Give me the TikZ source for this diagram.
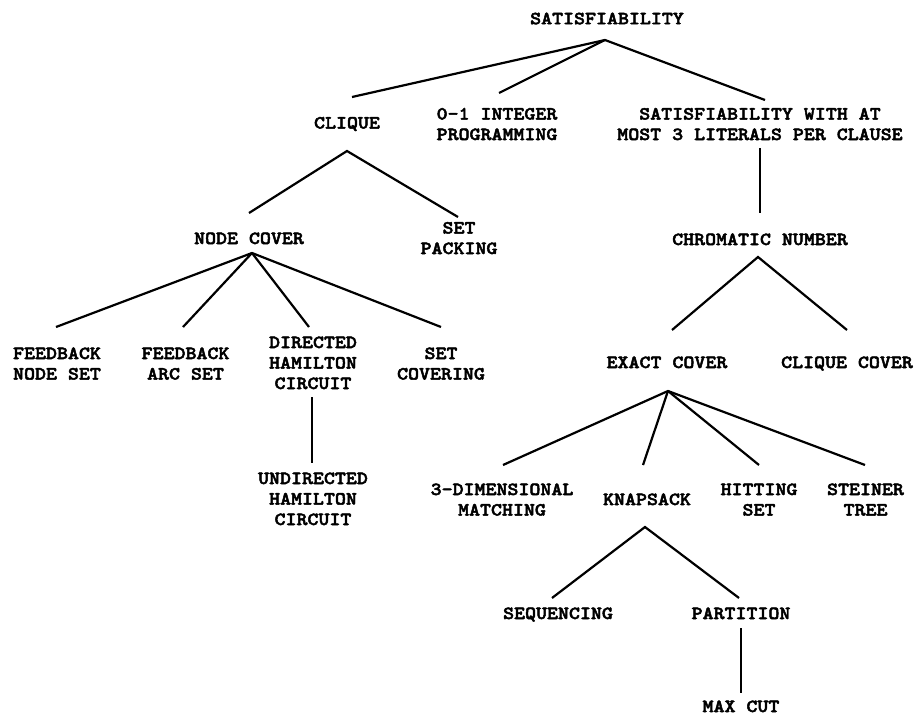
\documentclass[tikz,border=0pt]{standalone}
\usepackage{fontspec}
% heavy typewriter face, widened slightly for a Courier-like set width
\newfontfamily\probfont[FakeStretch=1.13,FakeBold=2.6]{lmmonolt10-bold.otf}
\begin{document}
\begin{tikzpicture}[x=1pt,y=-1pt,
  prob/.style={anchor=north, inner sep=0pt, outer sep=0pt, align=center,
    font=\probfont\fontsize{18.5}{20.5}\selectfont},
  link/.style={line width=2.2pt, line cap=butt, line join=miter}]
\useasboundingbox[fill=white] (0,0) rectangle (916,715);

% problems, each placed by the top of its first text line
\node[prob] (sat)        at (607,12.7)  {SATISFIABILITY};
\node[prob] (clique)     at (347,117)   {CLIQUE};
\node[prob] (int01)      at (497,108)   {0-1 INTEGER\\PROGRAMMING};
\node[prob] (sat3)       at (760,108)   {SATISFIABILITY WITH AT\\MOST 3 LITERALS PER CLAUSE};
\node[prob] (nodecover)  at (249,232.5) {NODE COVER};
\node[prob] (setpack)    at (459,222)   {SET\\PACKING};
\node[prob] (chromatic)  at (760,233.5) {CHROMATIC NUMBER};
\node[prob] (fns)        at (57,347.5)  {FEEDBACK\\NODE SET};
\node[prob] (fas)        at (185.5,347.5) {FEEDBACK\\ARC SET};
\node[prob] (dhc)        at (313,336.5) {DIRECTED\\HAMILTON\\CIRCUIT};
\node[prob] (setcover)   at (441,347.5) {SET\\COVERING};
\node[prob] (uhc)        at (313,472.5) {UNDIRECTED\\HAMILTON\\CIRCUIT};
\node[prob] (exact)      at (667,356.5) {EXACT COVER};
\node[prob] (cliquecov)  at (847,356.5) {CLIQUE COVER};
\node[prob] (tdm)        at (502,483.5) {3-DIMENSIONAL\\MATCHING};
\node[prob] (knapsack)   at (647,493.5) {KNAPSACK};
\node[prob] (hitting)    at (759,483.5) {HITTING\\SET};
\node[prob] (steiner)    at (865.5,483.5) {STEINER\\TREE};
\node[prob] (seq)        at (558,607.5) {SEQUENCING};
\node[prob] (partition)  at (741,607.5) {PARTITION};
\node[prob] (maxcut)     at (741,700.5) {MAX CUT};

% reductions
\draw[link] ([shift={(5,-20)}]clique.north) -- ([shift={(-2,27.3)}]sat.north)
            -- ([shift={(5,-8)}]sat3.north);
\draw[link] ([shift={(-2,27.3)}]sat.north) -- ([shift={(2,-15)}]int01.north);

\draw[link] ([shift={(0,-19.5)}]nodecover.north) -- ([shift={(0,34)}]clique.north)
            -- ([shift={(-1,-5)}]setpack.north);
\draw[link] ([shift={(0,40)}]sat3.north) -- ([shift={(0,-20.5)}]chromatic.north);

\draw[link] ([shift={(-1,-20.5)}]fns.north) -- ([shift={(3,20.5)}]nodecover.north)
            -- ([shift={(0,-20.5)}]setcover.north);
\draw[link] ([shift={(3,20.5)}]nodecover.north) -- ([shift={(-2.5,-20.5)}]fas.north);
\draw[link] ([shift={(3,20.5)}]nodecover.north) -- ([shift={(-4,-9.5)}]dhc.north);
\draw[link] ([shift={(-1,60.5)}]dhc.north) -- ([shift={(-1,-9.5)}]uhc.north);

\draw[link] ([shift={(5,-26.5)}]exact.north) -- ([shift={(-2,23.5)}]chromatic.north)
            -- ([shift={(0,-26.5)}]cliquecov.north);

\draw[link] ([shift={(1,-18.5)}]tdm.north) -- ([shift={(1,34.5)}]exact.north)
            -- ([shift={(-0.5,-18.5)}]steiner.north);
\draw[link] ([shift={(1,34.5)}]exact.north) -- ([shift={(-4,-28.5)}]knapsack.north);
\draw[link] ([shift={(1,34.5)}]exact.north) -- ([shift={(0,-18.5)}]hitting.north);

\draw[link] ([shift={(-6,-9.5)}]seq.north) -- ([shift={(-2,33.5)}]knapsack.north)
            -- ([shift={(-2,-9.5)}]partition.north);
\draw[link] ([shift={(0,20.5)}]partition.north) -- ([shift={(0,-7.5)}]maxcut.north);
\end{tikzpicture}
\end{document}
